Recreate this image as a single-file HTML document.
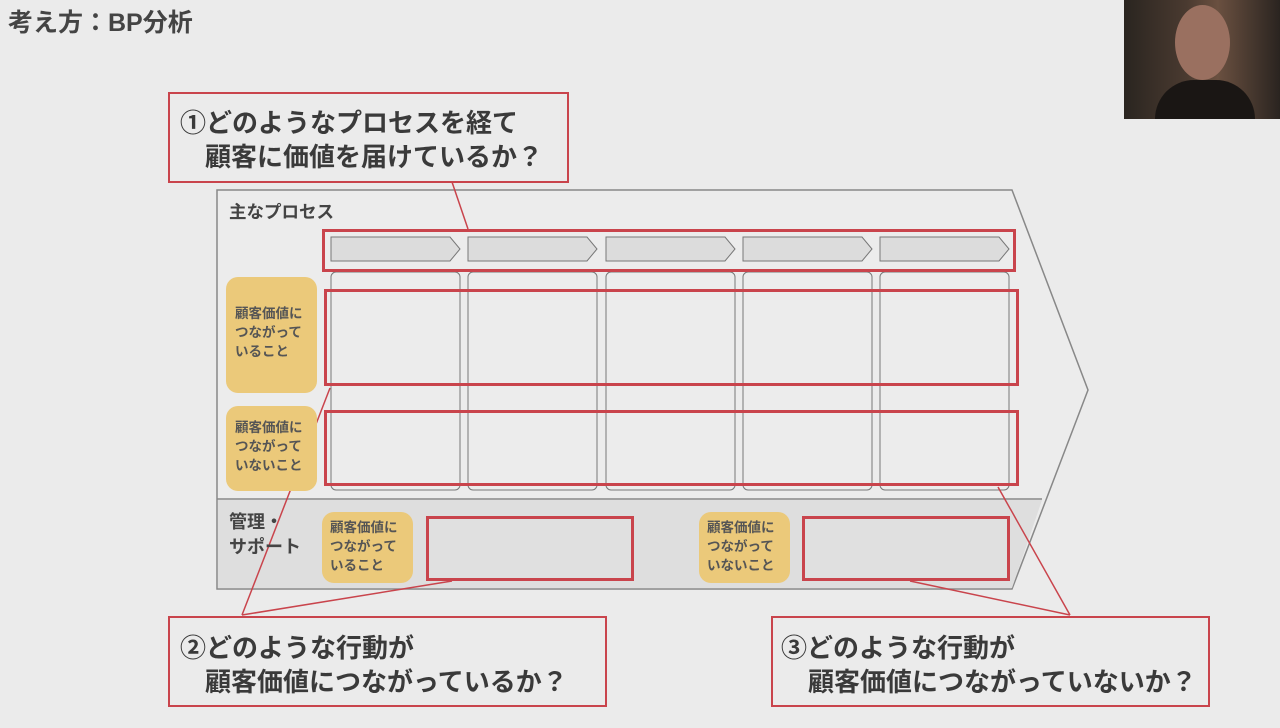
<!DOCTYPE html>
<html><head><meta charset="utf-8"><style>
body{margin:0;width:1280px;height:728px;background:#ebebeb;position:relative;overflow:hidden;font-family:"Liberation Sans","Noto Sans CJK JP",sans-serif;color:#444;font-weight:bold}
.a{position:absolute}
.red{position:absolute;border:3px solid #c9444c;box-sizing:border-box}
.y{position:absolute;background:#ebc97a;border-radius:12px;font-size:13.5px;line-height:19px;color:#555;box-sizing:border-box}
.big{font-size:26px;line-height:34px;color:#3a3a3a;white-space:nowrap}
</style></head><body>
<div class="a" style="left:8px;top:3px;font-size:25px;color:#444">考え方：BP分析</div>
<div class="a" style="left:1124px;top:0;width:156px;height:119px;background:linear-gradient(90deg,#2a2520,#4a3a30 40%,#6a5040 60%,#2a2420);"></div>
<div class="a" style="left:1175px;top:5px;width:55px;height:75px;border-radius:50%;background:#9a7060"></div>
<div class="a" style="left:1155px;top:80px;width:100px;height:39px;border-radius:40px 40px 0 0;background:#1a1614"></div>
<svg class="a" style="left:0;top:0" width="1280" height="728">
<polygon points="217,190 1012,190 1088,390 1012,589 217,589" fill="#ececec" stroke="#888" stroke-width="1.5"/>
<polygon points="218,500 1042,500 1012,588 218,588" fill="#dedede"/>
<line x1="217" y1="499" x2="1042" y2="499" stroke="#888" stroke-width="1.5"/>
<g fill="#dcdcdc" stroke="#777" stroke-width="1">
<polygon points="331,237 450,237 460,249 450,261 331,261"/>
<polygon points="468,237 587,237 597,249 587,261 468,261"/>
<polygon points="606,237 725,237 735,249 725,261 606,261"/>
<polygon points="743,237 862,237 872,249 862,261 743,261"/>
<polygon points="880,237 999,237 1009,249 999,261 880,261"/>
</g>
<g fill="none" stroke="#777" stroke-width="1">
<rect x="331" y="272" width="129" height="218" rx="5"/>
<rect x="468" y="272" width="129" height="218" rx="5"/>
<rect x="606" y="272" width="129" height="218" rx="5"/>
<rect x="743" y="272" width="129" height="218" rx="5"/>
<rect x="880" y="272" width="129" height="218" rx="5"/>
</g>
<g stroke="#c9444c" stroke-width="1.5">
<line x1="468" y1="229" x2="452" y2="182"/>
<line x1="330" y1="388" x2="242" y2="615"/>
<line x1="452" y1="581" x2="242" y2="615"/>
<line x1="998" y1="487" x2="1070" y2="615"/>
<line x1="910" y1="581" x2="1070" y2="615"/>
</g>
</svg>
<div class="a" style="left:229px;top:199px;font-size:17.5px">主なプロセス</div>
<div class="red" style="left:322px;top:229px;width:694px;height:43px"></div>
<div class="red" style="left:324px;top:289px;width:695px;height:97px"></div>
<div class="red" style="left:324px;top:410px;width:695px;height:76px"></div>
<div class="y" style="left:226px;top:277px;width:91px;height:116px;padding:27px 0 0 9px">顧客価値に<br>つながって<br>いること</div>
<div class="y" style="left:226px;top:406px;width:91px;height:85px;padding:12px 0 0 9px">顧客価値に<br>つながって<br>いないこと</div>
<div class="a" style="left:229px;top:510px;font-size:18px;line-height:25px">管理・<br>サポート</div>
<div class="y" style="left:322px;top:512px;width:91px;height:71px;padding:6px 0 0 8px">顧客価値に<br>つながって<br>いること</div>
<div class="red" style="left:426px;top:516px;width:208px;height:65px;background:#e0e0e0"></div>
<div class="y" style="left:699px;top:512px;width:91px;height:71px;padding:6px 0 0 8px">顧客価値に<br>つながって<br>いないこと</div>
<div class="red" style="left:802px;top:516px;width:208px;height:65px;background:#e0e0e0"></div>
<div class="red" style="left:168px;top:92px;width:401px;height:91px;border-width:2px"><div class="big a" style="left:10px;top:12px">①どのようなプロセスを経て</div><div class="big a" style="left:35px;top:46px">顧客に価値を届けているか？</div></div>
<div class="red" style="left:168px;top:616px;width:439px;height:91px;border-width:2px"><div class="big a" style="left:10px;top:13px">②どのような行動が</div><div class="big a" style="left:35px;top:47px">顧客価値につながっているか？</div></div>
<div class="red" style="left:771px;top:616px;width:439px;height:91px;border-width:2px"><div class="big a" style="left:8px;top:13px">③どのような行動が</div><div class="big a" style="left:35px;top:47px">顧客価値につながっていないか？</div></div>
</body></html>
